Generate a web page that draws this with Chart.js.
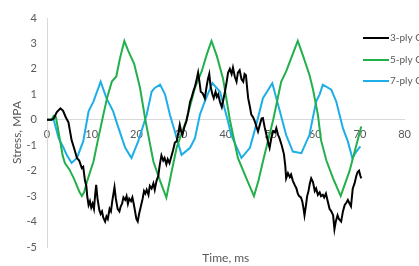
<!DOCTYPE html>
<html>
<head>
<meta charset="utf-8">
<script src="https://cdn.jsdelivr.net/npm/chart.js@4/dist/chart.umd.min.js"></script>
<style>
  html, body { margin: 0; padding: 0; background: #fff; }
  #wrap { width: 419px; height: 266px; }
</style>
</head>
<body>
<div id="wrap"><canvas id="stressChart"></canvas></div>
<script>
// series names
const seriesNames = ['3-ply CLT', '5-ply CLT', '7-ply CLT'];

// 3-ply: time (ms) and stress (MPa)
const time3 = [0,1,1.5,2.2,3,3.6,4.2,4.8,5.5,6.2,6.7,7.2,7.5,7.8,8.1,8.5,8.8,9,9.3,9.6,9.9,10.2,10.5,10.8,11,11.3,11.7,12,12.3,12.6,13,13.3,13.6,14,14.3,14.6,15.1,15.4,15.8,16.2,16.5,16.8,17.1,17.5,17.8,18.1,18.4,18.8,19.1,19.4,19.7,20,20.3,20.6,21,21.4,21.7,22,22.3,22.7,23,23.4,23.8,24.1,24.5,24.9,25.2,25.6,26,26.3,26.7,27,27.4,27.8,28.2,28.6,29,29.4,29.7,30,30.3,30.7,31.2,31.6,32,32.4,32.7,33.1,33.5,33.8,34.1,34.4,34.8,35.3,35.7,36,36.3,36.6,37,37.3,37.7,38,38.3,38.7,39.1,39.4,39.8,40.2,40.5,40.9,41.3,41.6,42,42.4,42.7,43.1,43.5,43.9,44.2,44.5,44.8,45,45.4,45.7,46.1,46.5,46.9,47.2,47.6,48,48.3,48.7,49.1,49.5,49.8,50.2,50.6,51,51.3,51.7,52,52.5,53,53.3,53.5,53.9,54.3,54.6,55,55.4,55.8,56.1,56.4,56.8,57.1,57.4,57.6,57.9,58.2,58.5,58.8,59.1,59.5,59.9,60.2,60.6,61,61.3,61.7,62,62.4,62.8,63.2,63.6,64,64.3,64.6,65,65.3,65.8,66.2,66.6,67,67.3,67.7,68,68.4,68.8,69.2,69.5,69.8,70.1,70.3];
const stress3 = [0,0,0.05,0.3,0.45,0.35,0.1,-0.1,-0.8,-1.2,-1.5,-1.6,-1.75,-1.9,-1.85,-2.4,-2.6,-3,-3.35,-3.2,-3.45,-3.3,-3.5,-2.9,-2.56,-3.1,-3.55,-3.7,-3.6,-3.85,-4,-3.8,-3.9,-3.5,-3.6,-3.2,-2.65,-3.1,-3.5,-3.6,-3.4,-3.3,-3.05,-3.15,-3,-3.3,-3.1,-3.2,-3.05,-3.3,-3.6,-3.9,-4,-3.7,-3.4,-3.1,-2.8,-2.9,-2.75,-2.95,-2.6,-2.7,-2.5,-2.75,-2.4,-2.2,-1.8,-1.4,-1.6,-1.5,-1.75,-1.55,-1.7,-1.45,-1.2,-0.9,-0.85,-0.5,-0.2,-0.45,-0.6,-0.3,-0.05,0.3,0.7,0.9,1.1,1.3,1.6,1.85,1.5,1.1,1.05,0.85,1.3,1.6,1.8,1.3,1,0.85,1.1,0.9,1,0.7,0.5,0.75,1.1,1.5,1.85,2,1.8,2.05,1.7,1.5,1.85,1.95,1.6,1.5,1.8,1.75,1.2,0.85,0.5,0.2,0.1,-0.07,-0.3,-0.46,-0.2,0.05,0.07,-0.3,-0.6,-0.9,-1.1,-0.7,-0.45,-0.5,-0.33,-0.6,-0.72,-1,-1.35,-1.8,-2.3,-2.1,-2.25,-2.15,-2.4,-2.56,-2.7,-2.9,-3,-3.05,-3.2,-3.5,-3.75,-3.4,-3,-2.8,-2.5,-2.3,-2.45,-2.8,-2.7,-2.95,-2.85,-3,-2.95,-3.05,-2.9,-3.2,-3.5,-3.6,-3.75,-4.3,-4,-3.75,-3.9,-4,-3.6,-3.35,-3.25,-3.15,-3.3,-3.4,-2.7,-2.5,-2.2,-2.05,-2,-2.2,-2.3];

// 5-ply
const time5 = [0,1,1.5,2,2.6,3,3.5,4,5,6,6.7,7.3,7.8,8.3,9,10.4,11.5,12.6,13.5,14.5,15.5,16.3,17.3,18.2,19.5,20.8,22,23.8,25.3,26.7,27.8,29,31.2,33.1,34.6,35.8,36.8,38,39.4,40.9,42.7,44.6,46.3,47.3,48.3,50.6,52.4,53.5,54.8,56.1,57.3,58.7,59.5,60.6,61.3,62.5,64,65.7,67.7,69.2,70.3];
const stress5 = [0,0,0.15,0.1,-0.5,-0.9,-1.4,-1.7,-1.95,-2.3,-2.6,-2.85,-3,-2.85,-2.4,-1.64,-0.7,0.2,0.9,1.5,1.7,2.4,3.1,2.7,2.2,1.26,0,-1.64,-2.4,-3.06,-2.1,-1.1,0,1.26,1.9,2.6,3.1,2.5,1.6,0,-1.5,-2.3,-3,-2.4,-1.64,0,1.5,1.9,2.5,3.1,2.5,1.77,1.2,0.2,-0.8,-1.6,-2.3,-3,-2,-1,-0.26];

// 7-ply
const time7 = [0,1.5,2.6,3.7,4.4,5.5,6.7,8.1,9.3,10.4,12,13.3,14.8,16,17.5,18.9,20.4,22.3,23.4,24.1,25.3,26.4,27.5,28.6,30.1,32,33.1,34.2,35.3,37,38.7,40.5,41.2,43.5,45.4,46.8,48.3,50.4,51.7,53.5,55,56.9,58.7,60.2,61,61.7,63.6,64.7,66.2,67.3,68.3,69.2,70.1];
const stress7 = [0,0,-0.72,-1.1,-1.38,-1.7,-1.5,-0.85,0.33,0.72,1.5,0.85,0.33,-0.33,-1.1,-1.5,-0.85,0.2,1.1,1.25,1.38,1,0.2,-0.46,-1.38,-1.1,-0.72,0.2,0.72,1.44,1.1,-0.07,-0.6,-1.5,-1.1,-0.2,0.85,1.44,0.59,-0.6,-1.25,-1.31,-0.6,0.72,1,1.38,1.18,0.72,-0.33,-0.85,-1.5,-1.25,-1.05];

const seriesColors = ['#000000', '#22b04b', '#1eaee6'];

function toPoints(xs, ys) {
	return xs.map((x, i) => ({ x: x, y: ys[i] }));
}

const gray = '#595959';
const fontFamily = 'Lato, "Open Sans", sans-serif';

// legend drawn over the top right, clipped by the canvas edge like the original
const sideLegend = {
	id: 'sideLegend',
	afterDraw(chart) {
		const ctx = chart.ctx;
		ctx.save();
		ctx.font = '10px ' + fontFamily;
		ctx.textBaseline = 'middle';
		ctx.lineWidth = 2;
		const rows = [38, 60, 81];
		seriesNames.forEach((name, i) => {
			ctx.strokeStyle = seriesColors[i];
			ctx.beginPath();
			ctx.moveTo(363, rows[i]);
			ctx.lineTo(389, rows[i]);
			ctx.stroke();
			ctx.fillStyle = gray;
			ctx.fillText(name, 390, rows[i]);
		});
		ctx.restore();
	}
};

const ctx = document.getElementById('stressChart').getContext('2d');
const stressChart = new Chart(ctx, {
	type: 'line',
	data: {
		datasets: seriesNames.map((name, i) => ({
			label: name,
			data: toPoints([time3, time5, time7][i], [stress3, stress5, stress7][i]),
			borderColor: seriesColors[i],
			borderWidth: 2,
			pointRadius: 0,
			tension: 0,
			fill: false,
		})),
	},
	options: {
		responsive: true,
		maintainAspectRatio: false,
		animation: false,
		layout: { padding: { top: 18, right: 13, left: 0, bottom: 0 } },
		plugins: {
			legend: { display: false },
			tooltip: { enabled: false },
		},
		scales: {
			x: {
				type: 'linear',
				min: 0,
				max: 80,
				position: { y: 0 },
				grid: { display: false, drawTicks: false },
				border: { display: true, color: '#d9d9d9', width: 1 },
				ticks: {
					stepSize: 10,
					padding: 8,
					color: gray,
					font: { family: fontFamily, size: 11 },
					maxRotation: 0,
				},
			},
			xTitle: {
				type: 'linear',
				axis: 'x',
				position: 'bottom',
				min: 0,
				max: 80,
				grid: { display: false, drawTicks: false },
				border: { display: false },
				ticks: { display: false },
				title: {
					display: true,
					text: 'Time, ms',
					color: gray,
					font: { family: fontFamily, size: 12 },
					padding: { top: 0, bottom: 1 },
				},
				afterFit(scale) { scale.height = 19; },
			},
			y: {
				min: -5,
				max: 4,
				grid: { display: false, drawTicks: false },
				border: { display: true, color: '#d9d9d9', width: 1 },
				ticks: {
					stepSize: 1,
					padding: 10,
					color: gray,
					font: { family: fontFamily, size: 11 },
				},
				title: {
					display: true,
					text: 'Stress, MPA',
					color: gray,
					font: { family: fontFamily, size: 12 },
					padding: { top: 10, bottom: 0 },
				},
				afterFit(scale) { scale.width = 47; },
			},
		},
	},
	plugins: [sideLegend],
});
</script>
</body>
</html>
